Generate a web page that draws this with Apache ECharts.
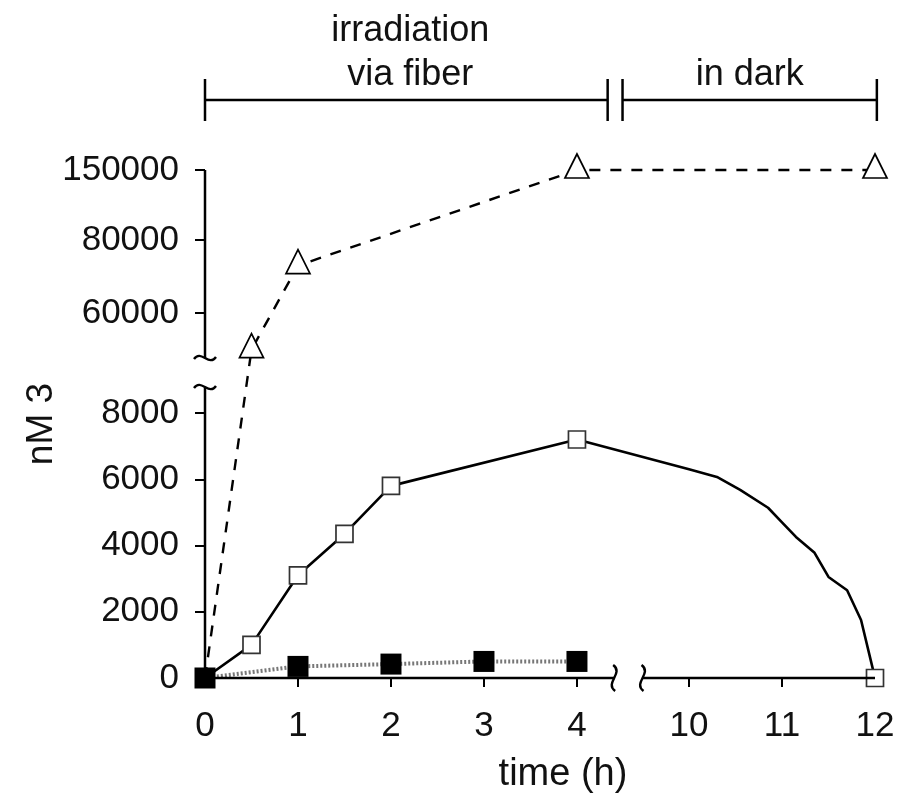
<!DOCTYPE html>
<html>
<head>
<meta charset="utf-8">
<script src="https://cdn.jsdelivr.net/npm/echarts@6/dist/echarts.min.js"></script>
<style>html,body{margin:0;padding:0;background:#fff}#c{width:898px;height:807px}</style>
</head>
<body>
<div id="c"></div>
<script>
// ---------------- data ----------------
const xTickLabels = [0, 1, 2, 3, 4, 10, 11, 12];
const yTickLabels = [0, 2000, 4000, 6000, 8000, 60000, 80000, 150000];

// dashed series, open triangles
const triTime  = [0, 0.5, 1, 4, 12];
const triValue = [0, 50000, 73000, 150000, 150000];

// solid series, open squares (irradiation phase)
const openTime  = [0, 0.5, 1, 1.5, 2, 4];
const openValue = [0, 1000, 3100, 4350, 5800, 7200];
// solid series, dark phase curve (no markers)
const darkTime  = [10, 10.3, 10.55, 10.85, 11, 11.15, 11.35, 11.5, 11.7, 11.85, 11.97];
const darkValue = [6300, 6070, 5680, 5140, 4700, 4260, 3780, 3050, 2650, 1750, 350];
// solid series, final open square
const endTime  = [12];
const endValue = [0];

// dotted series, filled squares
const filledTime  = [0, 1, 2, 3, 4];
const filledValue = [0, 350, 420, 500, 500];

// ---------------- broken-axis scales ----------------
const xScaleIn  = [0, 4.4, 9.5, 12];
const xScaleOut = [0, 4.4, 4.705, 7.205];
const yScaleIn  = [0, 8785, 47700, 80000, 150000];
const yScaleOut = [0, 8785, 9660, 13223, 15336];

function piecewise(inp, out, v) {
  for (let i = 1; i < inp.length; i++) {
    if (v <= inp[i] || i === inp.length - 1) {
      const t = (v - inp[i - 1]) / (inp[i] - inp[i - 1]);
      return out[i - 1] + t * (out[i] - out[i - 1]);
    }
  }
}
const xd = v => piecewise(xScaleIn, xScaleOut, v);
const yd = v => piecewise(yScaleIn, yScaleOut, v);

function lookupFormatter(ticks, fn, tol) {
  const m = ticks.map(t => [fn(t), t]);
  return function (val) {
    let best = '', bd = Infinity;
    m.forEach(([d, t]) => { const dd = Math.abs(d - val); if (dd < bd) { bd = dd; best = t; } });
    return bd < tol ? String(best) : '';
  };
}

const FONT = 'Liberation Sans, Arial, Helvetica, sans-serif';
const INK = '#111';

const triData = triTime.map((t, i) => ({
  value: [xd(t), yd(triValue[i])],
  symbol: i === 0 ? 'none' : 'triangle'
}));
const openData = []
  .concat(openTime.map((t, i) => ({ value: [xd(t), yd(openValue[i])], symbol: 'rect' })))
  .concat(darkTime.map((t, i) => ({ value: [xd(t), yd(darkValue[i])], symbol: 'none' })))
  .concat(endTime.map((t, i) => ({ value: [xd(t), yd(endValue[i])], symbol: 'rect' })));
const filledData = filledTime.map((t, i) => ({ value: [xd(t), yd(filledValue[i])] }));

const chart = echarts.init(document.getElementById('c'), null, { renderer: 'canvas' });

chart.setOption({
  animation: false,
  backgroundColor: '#fff',
  grid: { left: 205, right: 23, top: 170, bottom: 129, containLabel: false },
  xAxis: {
    type: 'value', min: 0, max: xScaleOut[xScaleOut.length - 1],
    name: 'time (h)', nameLocation: 'middle', nameGap: 78,
    nameTextStyle: { fontFamily: FONT, fontSize: 38, color: INK, padding: [0, 0, 0, 46] },
    axisLine: { show: false },
    axisTick: { show: true, customValues: xTickLabels.map(xd), length: 9, lineStyle: { color: '#000', width: 2 } },
    axisLabel: {
      customValues: xTickLabels.map(xd),
      formatter: lookupFormatter(xTickLabels, xd, 1e-4),
      fontFamily: FONT, fontSize: 35, color: INK, margin: 31
    },
    splitLine: { show: false }
  },
  yAxis: {
    type: 'value', min: 0, max: yScaleOut[yScaleOut.length - 1],
    name: 'nM 3', nameLocation: 'middle', nameGap: 145, nameMoveOverlap: false,
    nameTextStyle: { fontFamily: FONT, fontSize: 37, color: INK },
    axisLine: { show: false },
    axisTick: { show: true, customValues: yTickLabels.map(yd), length: 10, lineStyle: { color: '#000', width: 2 } },
    axisLabel: {
      customValues: yTickLabels.map(yd),
      formatter: lookupFormatter(yTickLabels, yd, 1),
      fontFamily: FONT, fontSize: 35, color: INK, margin: 26
    },
    splitLine: { show: false }
  },
  series: [
    {
      type: 'line', data: triData, clip: false, z: 2,
      symbolSize: 24, symbolOffset: [0, -4],
      itemStyle: { color: '#fff', borderColor: '#000', borderWidth: 1.7 },
      lineStyle: { color: '#000', width: 2.4, type: [11, 10] }
    },
    {
      type: 'line', data: openData, clip: false, z: 3,
      symbolSize: 17,
      itemStyle: { color: '#fff', borderColor: '#333', borderWidth: 1.7 },
      lineStyle: { color: '#000', width: 2.6 }
    },
    {
      type: 'line', data: filledData, clip: false, z: 4,
      symbol: 'rect', symbolSize: 21,
      itemStyle: { color: '#000' },
      lineStyle: { color: '#777', width: 4, type: [2, 2] }
    }
  ]
});

// ---------------- axis lines, break marks, top brackets ----------------
const P = (x, y) => chart.convertToPixel({ gridIndex: 0 }, [x, y]);
const o = P(0, 0);
const xbl = P(xScaleOut[1], 0), xbr = P(xScaleOut[2], 0), xe = P(xScaleOut[3], 0);
const ybl = P(0, yScaleOut[1]), ybu = P(0, yScaleOut[2]), yt = P(0, yScaleOut[yScaleOut.length - 1]);

function line(x1, y1, x2, y2, w) {
  return { type: 'line', shape: { x1, y1, x2, y2 }, style: { stroke: '#000', lineWidth: w || 2.5 }, z: 10 };
}
function vSquiggle(cx, cy) {
  return { type: 'bezierCurve', z: 11,
    shape: { x1: cx - 1, y1: cy - 13, cpx1: cx + 10, cpy1: cy - 5, cpx2: cx - 10, cpy2: cy + 5, x2: cx + 1, y2: cy + 13 },
    style: { stroke: '#000', lineWidth: 2.4, fill: null } };
}
function hSquiggle(cx, cy) {
  return { type: 'bezierCurve', z: 11,
    shape: { x1: cx - 11, y1: cy + 1, cpx1: cx - 4, cpy1: cy - 9, cpx2: cx + 4, cpy2: cy + 9, x2: cx + 11, y2: cy - 1 },
    style: { stroke: '#000', lineWidth: 2.4, fill: null } };
}
function text(str, x, y, size) {
  return { type: 'text', z: 12,
    style: { text: str, x, y, fill: INK, font: size + 'px ' + FONT,
             textAlign: 'center', align: 'center', textVerticalAlign: 'middle', verticalAlign: 'middle' } };
}

const brY = 100;
const b1a = P(0, 0)[0], b1b = P(4.33, 0)[0];
const b2a = P(4.49, 0)[0], b2b = P(7.225, 0)[0];

chart.setOption({
  graphic: [
    line(o[0], o[1], xbl[0], xbl[1]),
    line(xbr[0], xbr[1], xe[0], xe[1]),
    line(o[0], o[1], ybl[0], ybl[1]),
    line(ybu[0], ybu[1], yt[0], yt[1]),
    vSquiggle(xbl[0], xbl[1]),
    vSquiggle(xbr[0], xbr[1]),
    hSquiggle(ybl[0], ybl[1]),
    hSquiggle(ybu[0], ybu[1]),
    line(b1a, brY, b1b, brY), line(b1a, brY - 21, b1a, brY + 21), line(b1b, brY - 21, b1b, brY + 21),
    line(b2a, brY, b2b, brY), line(b2a, brY - 21, b2a, brY + 21), line(b2b, brY - 21, b2b, brY + 21),
    text('irradiation', (b1a + b1b) / 2 + 4, 31, 36),
    text('via fiber', (b1a + b1b) / 2 + 4, 75, 36),
    text('in dark', (b2a + b2b) / 2, 75, 36)
  ]
});
</script>
</body>
</html>
